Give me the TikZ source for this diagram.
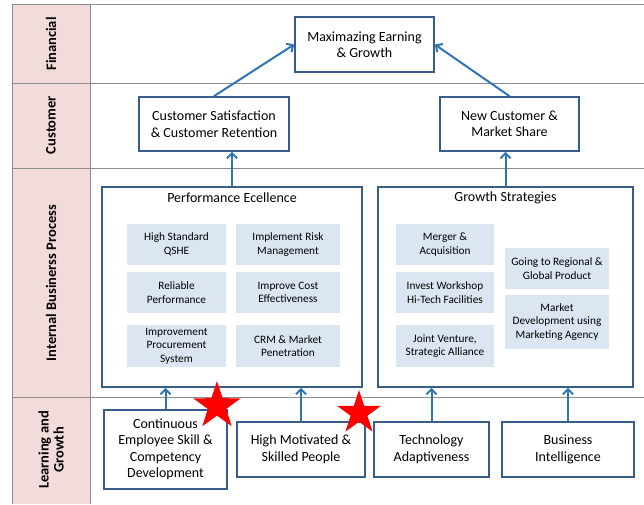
\documentclass[tikz,border=0pt]{standalone}
\usepackage{fontspec}
\setmainfont{Carlito}
\usetikzlibrary{shapes.geometric,arrows.meta}

\definecolor{boxline}{HTML}{385D8A}
\definecolor{arrowblue}{HTML}{2E75B6}
\definecolor{lanefill}{HTML}{F2DCDB}
\definecolor{itemfill}{HTML}{DCE6F2}
\definecolor{gridgray}{HTML}{8C8C8C}

\tikzset{
  goal/.style={draw=boxline, line width=1.7pt, fill=white, align=center,
    inner sep=2pt, font=\fontsize{14}{16.5}\selectfont},
  group/.style={draw=boxline, line width=1.7pt, fill=white},
  item/.style={fill=itemfill, align=center, inner sep=1pt,
    font=\fontsize{11.3}{13.5}\selectfont},
  link/.style={draw=arrowblue, line width=2pt,
    -{Straight Barb[length=5pt,width=10pt]}},
  lane/.style={rotate=90, align=center, font=\bfseries\fontsize{14.5}{15}\selectfont},
  redstar/.style={star, star points=5, star point ratio=2.6, fill=red,
    draw=none, inner sep=0pt}
}

\begin{document}
\begin{tikzpicture}[x=1pt,y=-1pt]
\useasboundingbox (0,0) rectangle (644,504);

% perspective lanes
\fill[lanefill] (12,4) rectangle (90,504);
\draw[gridgray, line width=1pt] (12,504) -- (12,4) -- (644,4);
\draw[gridgray, line width=1pt] (90,4) -- (90,504);
\foreach \y in {83,168,397}
  \draw[gridgray, line width=1pt] (12,\y) -- (644,\y);

\node[lane] (lfin) at (51,44) {Financial};
\node[lane] (lcus) at (51,125) {Customer};
\node[lane] (libp) at (51,283) {Internal Businerss Process};
\node[lane] (llg) at (51,450) {Learning and\\Growth};

% financial and customer goals
\node[goal, minimum width=139pt, minimum height=55pt] (maxeg) at (364.5,44.5) {Maximazing Earning\\\& Growth};
\node[goal, minimum width=150pt, minimum height=54pt] (custsat) at (214,124) {Customer Satisfaction\\\& Customer Retention};
\node[goal, minimum width=139pt, minimum height=54pt] (newcust) at (509.5,124) {New Customer \&\\Market Share};

% internal process groups
\node[group, minimum width=260pt, minimum height=200pt] (perf) at (232,287) {};
\node[font=\fontsize{14}{16.5}\selectfont] (perft) at (232,198) {Performance Ecellence};
\node[group, minimum width=255pt, minimum height=200pt] (growth) at (505.5,287) {};
\node[font=\fontsize{14}{16.5}\selectfont] (growtht) at (505.5,198) {Growth Strategies};

\node[item, minimum width=99pt, minimum height=41pt] (qshe) at (176.5,244.5) {High Standard\\QSHE};
\node[item, minimum width=104pt, minimum height=41pt] (risk) at (288,244.5) {Implement Risk\\Management};
\node[item, minimum width=99pt, minimum height=41pt] (relia) at (176.5,292.5) {Reliable\\Performance};
\node[item, minimum width=104pt, minimum height=41pt] (cost) at (288,292.5) {Improve Cost\\Effectiveness};
\node[item, minimum width=99pt, minimum height=42pt] (procu) at (176.5,346) {Improvement\\Procurement\\System};
\node[item, minimum width=104pt, minimum height=42pt] (crm) at (288,346) {CRM \& Market\\Penetration};

\node[item, minimum width=98pt, minimum height=41pt] (merger) at (445,244.5) {Merger \&\\Acquisition};
\node[item, minimum width=98pt, minimum height=41pt] (invest) at (445,292.5) {Invest Workshop\\Hi-Tech Facilities};
\node[item, minimum width=98pt, minimum height=42pt] (joint) at (445,346) {Joint Venture,\\Strategic Alliance};
\node[item, minimum width=104pt, minimum height=41pt] (region) at (557,268.5) {Going to Regional \&\\Global Product};
\node[item, minimum width=104pt, minimum height=54pt] (mktdev) at (557,322) {Market\\Development using\\Marketing Agency};

% learning and growth
\node[goal, minimum width=123pt, minimum height=79pt] (skill) at (165.5,449.5) {Continuous\\Employee Skill \&\\Competency\\Development};
\node[goal, minimum width=128pt, minimum height=55pt] (people) at (301,449.5) {High Motivated \&\\Skilled People};
\node[goal, minimum width=115pt, minimum height=55pt] (tech) at (431.5,449.5) {Technology\\Adaptiveness};
\node[goal, minimum width=132pt, minimum height=55pt] (bi) at (568,449.5) {Business\\Intelligence};

% links
\draw[link] (skill.north) -- (skill.north |- perf.south);
\draw[link] (people.north) -- (people.north |- perf.south);
\draw[link] (tech.north) -- (tech.north |- growth.south);
\draw[link] (bi.north) -- (bi.north |- growth.south);
\draw[link] (perf.north) -- (perf.north |- custsat.south);
\draw[link] (growth.north) -- (growth.north |- newcust.south);
\draw[link] (custsat.north) -- (maxeg.west);
\draw[link] (newcust.north) -- (maxeg.east);

\node[redstar, minimum size=50pt] (star1) at (217,406) {};
\node[redstar, minimum size=46pt] (star2) at (359,413) {};
\end{tikzpicture}
\end{document}
